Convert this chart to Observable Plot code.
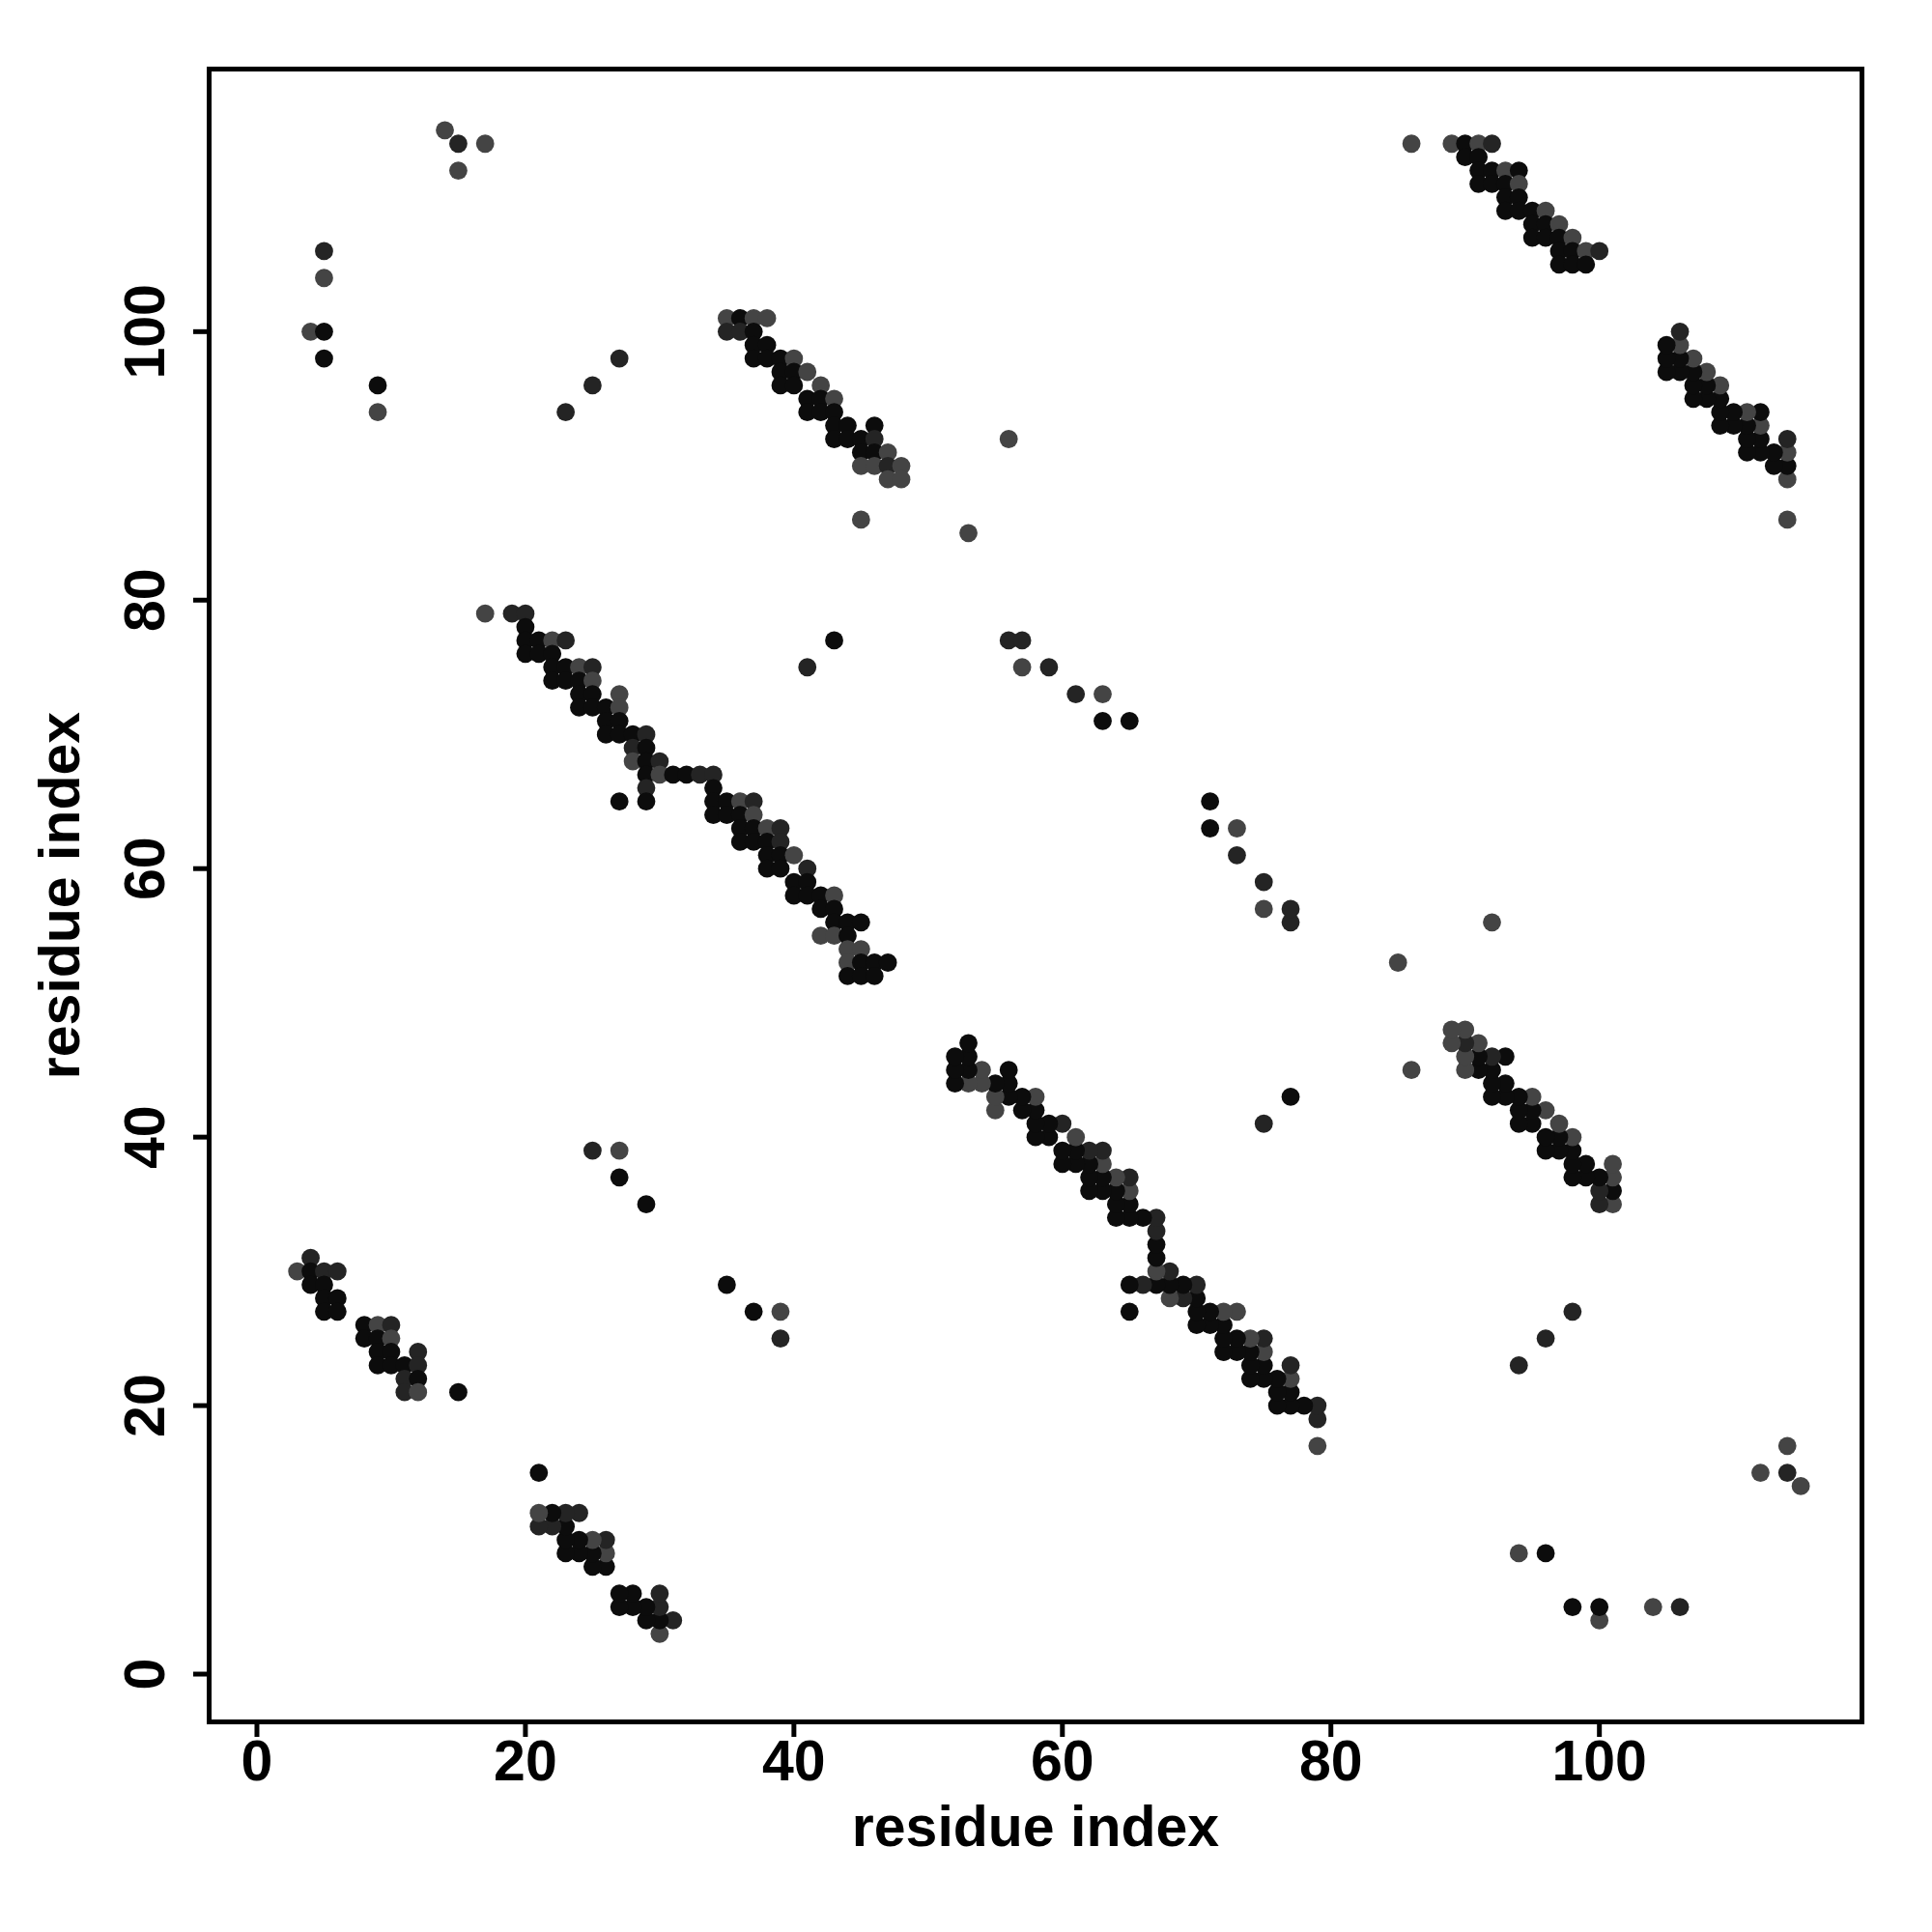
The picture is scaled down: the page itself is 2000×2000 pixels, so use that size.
<!DOCTYPE html>
<html>
<head>
<meta charset="utf-8">
<script src="https://cdn.jsdelivr.net/npm/d3@7"></script>
<script src="https://cdn.jsdelivr.net/npm/@observablehq/plot@0.6"></script>
<style>
  html, body { margin: 0; padding: 0; background: #ffffff; }
</style>
</head>
<body>
<div id="chart"></div>
<script>
// Contact pairs (residue i < residue j); each pair is drawn at (i, j) and (j, i).
// shade: b = black, d = dark grey, g = grey
const resI = [
  // block near (86-100, 105-114)
  86,89,90,91,92, 90,91, 91,92,93,94, 91,92,93,94, 93,94, 93,94,95,96, 95,96,97, 95,96,97,98, 97,98,99,100, 97,98,99,
  // block near (35-48, 86-101)
  35,36,37,38, 35,36,37, 37,38, 37,38,39,40, 39,40,41, 39,40,42, 41,42,43, 41,42,43, 43,44,46, 43,44,45,46, 45,46,47, 45,46,47,48, 47,48, 45,
  // long block near (17-47, 52-79)
  17,19,20, 20, 20,21,22,23, 20,21,22, 22,23,24,25, 22,23,24,25, 24,25,27, 24,25,26,27, 26,27, 26,27,28,29, 28,29, 28,29,30,
  29,30,31,32,33,34, 29,34, 27,29,34,35,36,37, 34,35,36,37, 36,37,38,39, 36,37,38,39, 38,39,40, 38,39,41, 40,41, 40,41,42,43,
  42,43, 43,44,45, 42,43,44, 44,45, 44,45,46,47, 44,45,46,
  // block near (3-12, 21-31)
  4, 3,4,5,6, 4,5, 5,6, 5,6, 8,9,10, 8,9,10, 9,10,12, 9,10,11,12, 11,12, 11,12,
  // scattered contacts
  14,15,15,17, 5,5,4,5,5,9,9, 23,25,27, 25,27,27,29, 15, 41,43, 53,56, 56,57,57,59,61,63,63,65
];
const resJ = [
  114,114,114,114,114, 113,113, 112,112,112,112, 111,111,111,111, 110,110, 109,109,109,109, 108,108,108, 107,107,107,107, 106,106,106,106, 105,105,105,
  101,101,101,101, 100,100,100, 99,99, 98,98,98,98, 97,97,97, 96,96,96, 95,95,95, 94,94,94, 93,93,93, 92,92,92,92, 91,91,91, 90,90,90,90, 89,89, 86,
  79,79,79, 78, 77,77,77,77, 76,76,76, 75,75,75,75, 74,74,74,74, 73,73,73, 72,72,72,72, 71,71, 70,70,70,70, 69,69, 68,68,68,
  67,67,67,67,67,67, 66,66, 65,65,65,65,65,65, 64,64,64,64, 63,63,63,63, 62,62,62,62, 61,61,61, 60,60,60, 59,59, 58,58,58,58,
  57,57, 56,56,56, 55,55,55, 54,54, 53,53,53,53, 52,52,52,
  31, 30,30,30,30, 29,29, 28,28, 27,27, 26,26,26, 25,25,25, 24,24,24, 23,23,23,23, 22,22, 21,21,
  115,114,112,114, 106,104,100,100,98,96,94, 94,96,98, 39,39,37,35, 21, 75,77, 85,92, 77,77,75,75,73,73,71,71
];
const shade = [
  "g","g","b","g","d", "b","b", "b","b","g","b", "b","b","b","g", "b","b", "b","b","b","g", "b","b","g", "b","b","b","g", "b","b","g","d", "b","b","b",
  "g","b","g","g", "d","d","b", "b","b", "b","b","b","g", "b","b","g", "b","b","g", "b","b","g", "b","b","b", "b","b","b", "b","b","b","d", "b","b","g", "g","g","d","g", "g","g", "g",
  "g","d","d", "b", "b","b","g","d", "b","b","b", "b","b","g","d", "b","b","b","g", "b","b","g", "b","b","b","g", "b","b", "b","b","b","d", "d","b", "g","b","d",
  "b","g","b","b","d","d", "d","b", "b","b","b","b","g","d", "b","b","b","g", "b","b","g","d", "b","b","b","d", "b","b","g", "b","b","d", "b","b", "b","b","b","g",
  "b","b", "b","b","b", "g","g","b", "g","g", "g","b","b","b", "b","b","b",
  "d", "g","b","d","d", "b","b", "b","b", "b","b", "b","g","d", "b","b","g", "b","b","d", "b","b","b","d", "d","b", "d","g",
  "g","d","g","g", "d","g","g","b","b","b","g", "d","d","d", "d","g","b","b", "b", "d","b", "g","g", "d","d","g","d","d","g","b","b"
];
const shadeNames = ["b", "d", "g"];
const shadeColors = ["#0c0c0c", "#242424", "#444444"];
const xTicks = [0, 20, 40, 60, 80, 100];
const yTicks = [0, 20, 40, 60, 80, 100];
const axisTitleX = "residue index";
const axisTitleY = "residue index";

const points = [];
resI.forEach((a, k) => {
  points.push({x: a, y: resJ[k], s: shade[k]});
  points.push({x: resJ[k], y: a, s: shade[k]});
});

const font = "'Liberation Sans', Arial, Helvetica, sans-serif";
const chart = Plot.plot({
  width: 2000,
  height: 2000,
  marginLeft: 216,
  marginRight: 73,
  marginTop: 71,
  marginBottom: 218,
  x: {domain: [-3.56, 119.56]},
  y: {domain: [-3.56, 119.56]},
  color: {domain: shadeNames, range: shadeColors},
  style: {fontFamily: font, fontWeight: "bold", fontSize: "58px", background: "white", color: "black"},
  marks: [
    Plot.dot(points, {x: "x", y: "y", r: 9.4, fill: "s", stroke: "none"}),
    Plot.frame({stroke: "black", strokeWidth: 5}),
    Plot.axisX({ticks: xTicks, tickSize: 16, tickPadding: 3, tickFormat: d => String(d), label: null,
      fontSize: 59, fontWeight: "bold", strokeWidth: 5}),
    Plot.axisY({ticks: yTicks, tickSize: 16, tickPadding: 31, tickRotate: -90, tickFormat: d => String(d), label: null,
      fontSize: 59, fontWeight: "bold", strokeWidth: 5}),
    Plot.text([axisTitleX], {frameAnchor: "bottom", dy: 128, textAnchor: "middle", text: d => d, fontSize: 59, fontWeight: "bold", fill: "black"}),
    Plot.text([axisTitleY], {frameAnchor: "left", dx: -153, textAnchor: "middle", rotate: -90, text: d => d, fontSize: 59, fontWeight: "bold", fill: "black"})
  ]
});
document.getElementById("chart").appendChild(chart);
</script>
</body>
</html>
